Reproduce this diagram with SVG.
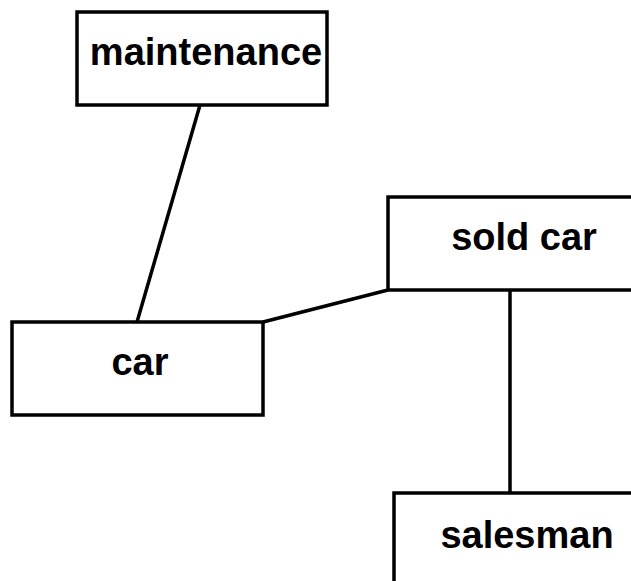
<svg xmlns="http://www.w3.org/2000/svg" width="631" height="581" viewBox="0 0 631 581">
<style>
.box{fill:#fff;stroke:#000;stroke-width:3.5}
.lbl{font-family:"Liberation Sans",Arial,sans-serif;font-weight:bold;font-size:38px;text-anchor:middle;fill:#000}
.edge{stroke:#000;stroke-width:3.5;fill:none}
</style>
<rect width="631" height="581" fill="#fff"/>
<g id="connectors">
<line class="edge" x1="200" y1="105" x2="137" y2="322"/>
<line class="edge" x1="263" y1="322" x2="388" y2="290"/>
<line class="edge" x1="510" y1="290" x2="510" y2="493"/>
</g>
<g id="maintenance">
<rect class="box" x="77" y="12" width="250" height="93"/>
<text class="lbl" x="206" y="65">maintenance</text>
</g>
<g id="soldcar">
<rect class="box" x="388" y="197" width="272" height="93"/>
<text class="lbl" x="524" y="250">sold car</text>
</g>
<g id="car">
<rect class="box" x="12" y="322" width="251" height="93"/>
<text class="lbl" x="140" y="375">car</text>
</g>
<g id="salesman">
<rect class="box" x="394" y="493" width="266" height="100"/>
<text class="lbl" x="527" y="548">salesman</text>
</g>
</svg>
